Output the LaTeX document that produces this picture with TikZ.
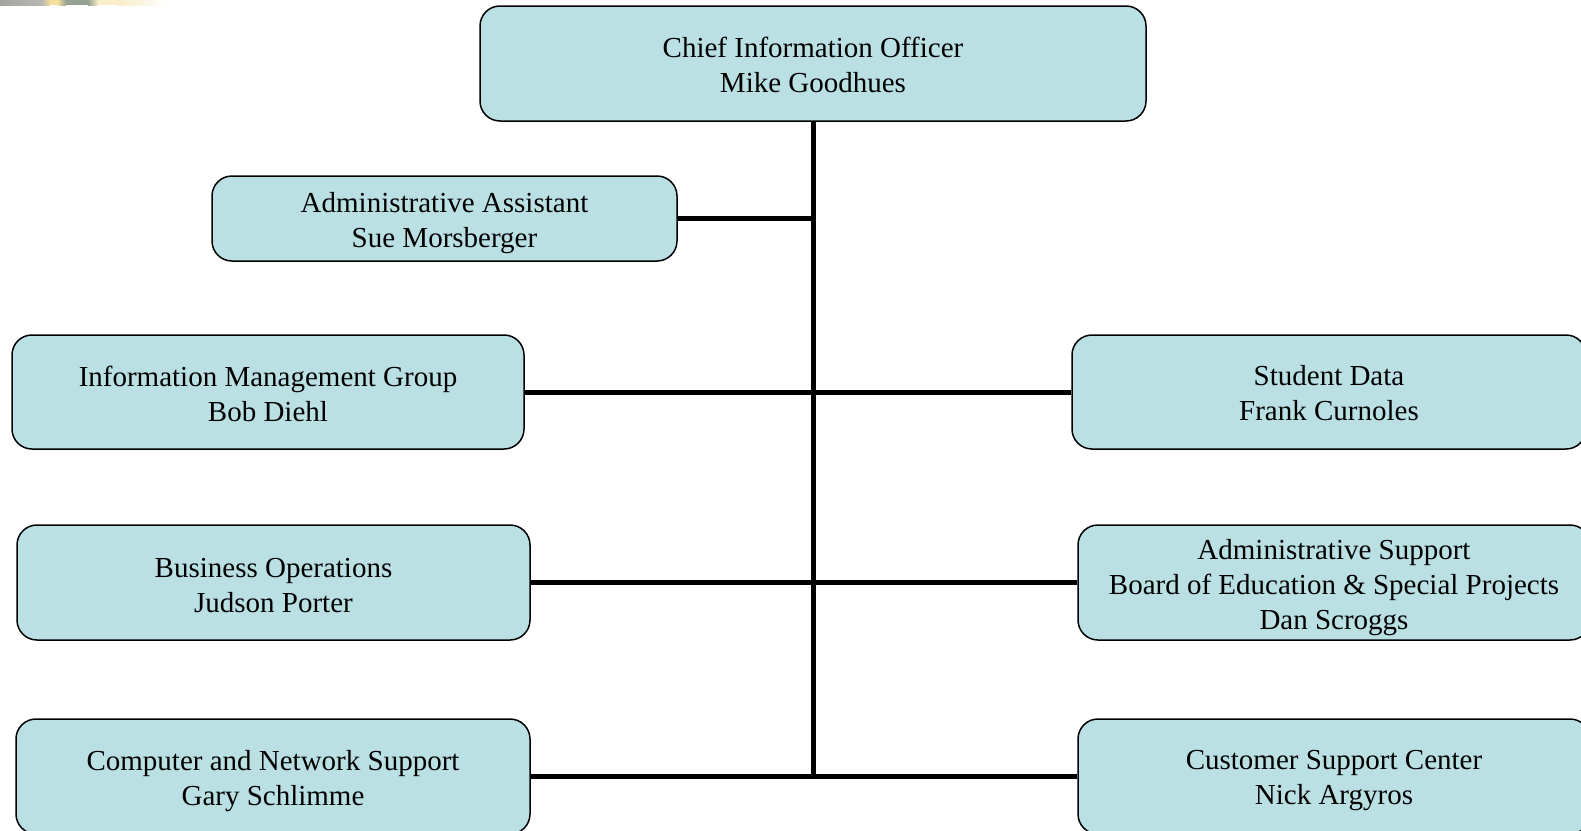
\documentclass[tikz,border=0pt]{standalone}
\usepackage{fontspec}
\setmainfont{Liberation Serif}
\definecolor{boxfill}{RGB}{186,224,228}
\definecolor{s1}{RGB}{165,165,160}
\definecolor{s2}{RGB}{245,222,160}
\definecolor{s3}{RGB}{150,162,145}
\definecolor{s4}{RGB}{248,238,200}
\begin{document}
\begin{tikzpicture}[x=1pt,y=-1pt,
  orgbox/.style={draw=black, line width=1.5pt, fill=boxfill, rounded corners=20pt, inner sep=0pt},
  orgtext/.style={inner sep=0pt, align=center, font=\fontsize{29}{35}\selectfont},
  link/.style={line width=5pt, draw=black}]
\clip (0,0) rectangle (1581,830);
\fill[white] (0,0) rectangle (1581,830);
% top-left image fragment
\shade[left color=s1, right color=s1!80] (0,0) rectangle (42,5);
\shade[left color=s1!80, right color=s2] (42,0) rectangle (50,5);
\fill[s2] (50,0) rectangle (58,5);
\shade[left color=s2, right color=s3] (58,0) rectangle (66,5);
\fill[s3] (66,0) rectangle (88,5);
\shade[left color=s3, right color=s4] (88,0) rectangle (98,5);
\fill[s4] (98,0) rectangle (118,5);
\shade[left color=s4, right color=white] (118,0) rectangle (168,5);
% boxes
\node[orgbox, minimum width=666pt, minimum height=115pt] (cio) at (813,63.5) {};
\node[orgbox, minimum width=465pt, minimum height=85pt] (aa) at (444.5,218.5) {};
\node[orgbox, minimum width=512pt, minimum height=114pt] (img) at (268,392) {};
\node[orgbox, minimum width=514pt, minimum height=114pt] (sd) at (1329,392) {};
\node[orgbox, minimum width=513pt, minimum height=115pt] (bo) at (273.5,582.5) {};
\node[orgbox, minimum width=512pt, minimum height=115pt] (as) at (1334,582.5) {};
\node[orgbox, minimum width=514pt, minimum height=115pt] (cns) at (273,776.5) {};
\node[orgbox, minimum width=512pt, minimum height=115pt] (csc) at (1334,776.5) {};
% texts
\node[orgtext, yshift=-1.5pt] (ciot) at (cio.center) {Chief Information Officer\\Mike Goodhues};
\node[orgtext, yshift=-5pt] (aat) at (aa.center) {Administrative Assistant\\Sue Morsberger};
\node[orgtext, yshift=-1.5pt] (imgt) at (img.center) {Information Management Group\\Bob Diehl};
\node[orgtext, yshift=-1.5pt] (sdt) at (sd.center) {Student Data\\Frank Curnoles};
\node[orgtext, yshift=-3.5pt] (bot) at (bo.center) {Business Operations\\Judson Porter};
\node[orgtext, yshift=-5pt] (ast) at (as.center) {Administrative Support\\Board of Education \& Special Projects\\Dan Scroggs};
\node[orgtext, yshift=-4.5pt] (cnst) at (cns.center) {Computer and Network Support\\Gary Schlimme};
\node[orgtext, yshift=-4.5pt] (csct) at (csc.center) {Customer Support Center\\Nick Argyros};
% trunk
\coordinate (trunkend) at (813,776.5);
\draw[link] (cio.south) -- (trunkend);
\draw[link] (aa.east) -- (aa.east -| cio.south);
\draw[link] (img.east) -- (sd.west);
\draw[link] (bo.east) -- (as.west);
\draw[link] (cns.east) -- (csc.west);
\end{tikzpicture}
\end{document}
